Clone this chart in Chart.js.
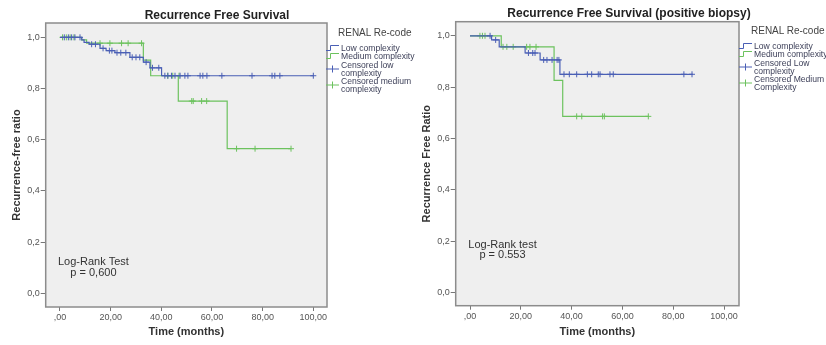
<!DOCTYPE html>
<html>
<head>
<meta charset="utf-8">
<script src="https://cdn.jsdelivr.net/npm/chart.js@4.4.1/dist/chart.umd.min.js"></script>
<style>
  body { margin: 0; background: #fff; width: 826px; height: 345px; overflow: hidden; position: relative;
         font-family: "Liberation Sans", Arial, sans-serif; }
  .panel { position: absolute; top: 0; height: 345px; }
  #panel-left { left: 0; width: 410px; }
  #panel-right { left: 410px; width: 416px; }
  .title { position: absolute; font-weight: bold; font-size: 12px; color: #222; white-space: nowrap; transform: translateX(-50%); }
  .legend { position: absolute; color: #3c3f58; font-size: 8.6px; line-height: 8.3px; white-space: nowrap; }
  .legend .head { font-size: 10px; color: #444; margin-left: 12px; margin-bottom: 6px; line-height: 11px; }
  .legend .item { display: flex; align-items: center; }
  .legend svg { flex: none; margin-right: 2px; }
</style>
</head>
<body>
<div class="panel" id="panel-left"><canvas id="chart-left" width="410" height="345"></canvas></div>
<div class="panel" id="panel-right"><canvas id="chart-right" width="416" height="345"></canvas></div>

<div class="title" style="left:217px; top:8px;">Recurrence Free Survival</div>
<div class="title" style="left:629px; top:6px;">Recurrence Free Survival (positive biopsy)</div>
<div class="legend" id="legend-left" style="left:326px; top:27px;"></div>
<div class="legend" id="legend-right" style="left:739px; top:25px;"></div>

<script>
// axis ticks
const yTickValues = [0, 0.2, 0.4, 0.6, 0.8, 1.0];
const yTickLabels = ['0,0', '0,2', '0,4', '0,6', '0,8', '1,0'];
const xTickValues = [0, 20, 40, 60, 80, 100];
const xTickLabels = [',00', '20,00', '40,00', '60,00', '80,00', '100,00'];

// left panel: all patients
const leftLowTimes = [0, 8.6, 9.5, 11.5, 15.8, 18.2, 21.7, 27.6, 32.9, 35.5, 40.1, 100];
const leftLowSurv  = [1.0, 0.99, 0.98, 0.973, 0.957, 0.948, 0.94, 0.922, 0.903, 0.881, 0.85, 0.85];
const leftMedTimes = [0, 8.5, 10.5, 32.9, 35.8, 46.7, 66, 91.2];
const leftMedSurv  = [1.0, 0.99, 0.977, 0.911, 0.85, 0.751, 0.565, 0.565];
const leftLowCensTimes = [1.7, 3.3, 4.6, 5.9, 7.9, 12.5, 14, 17, 19.5, 20.5, 22.5, 24, 26, 28.5, 30, 31.5, 34, 36.5, 39,
  41.4, 42.6, 44, 45.4, 47.4, 49.3, 50.5, 55.3, 56.4, 58, 63.9, 75.8, 83.7, 84.8, 86.8, 100];
const leftLowCensSurv  = [1.0, 1.0, 1.0, 1.0, 1.0, 0.973, 0.973, 0.957, 0.948, 0.948, 0.94, 0.94, 0.94, 0.922, 0.922, 0.922, 0.903, 0.881, 0.881,
  0.85, 0.85, 0.85, 0.85, 0.85, 0.85, 0.85, 0.85, 0.85, 0.85, 0.85, 0.85, 0.85, 0.85, 0.85, 0.85];
const leftMedCensTimes = [1, 2.5, 4, 5.5, 15.8, 19.7, 24.3, 26.9, 32.2, 42.5, 44.5, 47, 52, 52.6, 55.9, 57.9, 69.7, 77, 91.2];
const leftMedCensSurv  = [1.0, 1.0, 1.0, 1.0, 0.977, 0.977, 0.977, 0.977, 0.977, 0.85, 0.85, 0.85, 0.751, 0.751, 0.751, 0.751, 0.565, 0.565, 0.565];

// right panel: positive biopsy
const rightLowTimes = [0, 8.5, 11.5, 21.7, 27.6, 35.4, 87.7];
const rightLowSurv  = [1.0, 0.984, 0.957, 0.933, 0.906, 0.85, 0.85];
const rightMedTimes = [0, 12.3, 33.1, 36.5, 70.2];
const rightMedSurv  = [1.0, 0.957, 0.826, 0.686, 0.686];
const rightLowCensTimes = [7.9, 10.1, 23, 24.7, 25.6, 29, 30.3, 32.3, 34.3, 35, 37, 39.1, 42, 46.2, 47.9, 50.5, 51.2, 55.1, 56.4, 84.2, 87.4];
const rightLowCensSurv  = [1.0, 0.984, 0.933, 0.933, 0.933, 0.906, 0.906, 0.906, 0.906, 0.906, 0.85, 0.85, 0.85, 0.85, 0.85, 0.85, 0.85, 0.85, 0.85, 0.85, 0.85];
const rightMedCensTimes = [3.9, 4.9, 5.9, 13, 14.5, 17, 22.3, 23.6, 26, 42, 44, 52.2, 52.9, 70.2];
const rightMedCensSurv  = [1.0, 1.0, 1.0, 0.957, 0.957, 0.957, 0.957, 0.957, 0.957, 0.686, 0.686, 0.686, 0.686, 0.686];

const legendLeft = ['Low complexity', 'Medium complexity', 'Censored low<br>complexity', 'Censored medium<br>complexity'];
const legendRight = ['Low complexity', 'Medium complexity', 'Censored Low<br>complexity', 'Censored Medium<br>Complexity'];

const BLUE = '#4a5fb5';
const GREEN = '#6cc25e';

function zip(xs, ys) {
  return xs.map((x, i) => ({ x: x, y: ys[i] }));
}

const panelPlugin = {
  id: 'panel',
  beforeDatasetsDraw(chart) {
    const a = chart.chartArea, ctx = chart.ctx;
    ctx.save();
    ctx.fillStyle = '#efefef';
    ctx.fillRect(a.left, a.top, a.right - a.left, a.bottom - a.top);
    ctx.restore();
  },
  afterDraw(chart) {
    const a = chart.chartArea, ctx = chart.ctx;
    const opts = chart.options.plugins.panel;
    ctx.save();
    ctx.strokeStyle = '#8c8c8c';
    ctx.lineWidth = 1.5;
    ctx.strokeRect(a.left, a.top, a.right - a.left, a.bottom - a.top);
    ctx.fillStyle = '#333';
    ctx.font = '11px "Liberation Sans", Arial, sans-serif';
    ctx.textAlign = 'center';
    ctx.textBaseline = 'middle';
    const px = chart.scales.x.getPixelForValue(opts.textX);
    opts.lines.forEach((line, i) => {
      ctx.fillText(line, px, chart.scales.y.getPixelForValue(opts.textY[i]));
    });
    ctx.restore();
  }
};

function makeChart(id, cfg) {
  const tickFont = { family: '"Liberation Sans", Arial, sans-serif', size: 9 };
  const titleFont = { family: '"Liberation Sans", Arial, sans-serif', size: 11, weight: 'bold' };
  return new Chart(document.getElementById(id), {
    type: 'line',
    data: {
      datasets: [
        { data: zip(cfg.lowT, cfg.lowS), borderColor: BLUE, borderWidth: 1.2, stepped: 'before', pointRadius: 0, fill: false },
        { data: zip(cfg.lowCT, cfg.lowCS), borderColor: BLUE, backgroundColor: BLUE, showLine: false,
          pointStyle: 'cross', pointRadius: 3, pointBorderWidth: 1 },
        { data: zip(cfg.medT, cfg.medS), borderColor: GREEN, borderWidth: 1.2, stepped: 'before', pointRadius: 0, fill: false },
        { data: zip(cfg.medCT, cfg.medCS), borderColor: GREEN, backgroundColor: GREEN, showLine: false,
          pointStyle: 'cross', pointRadius: 3, pointBorderWidth: 1 }
      ]
    },
    options: {
      responsive: false,
      animation: false,
      layout: { padding: { left: 0, top: cfg.top, right: cfg.right, bottom: 0 } },
      plugins: {
        legend: { display: false },
        tooltip: { enabled: false },
        panel: { lines: cfg.lines, textX: cfg.textX, textY: cfg.textY }
      },
      scales: {
        x: {
          type: 'linear', min: cfg.xMin, max: cfg.xMax,
          afterBuildTicks: s => { s.ticks = xTickValues.map(v => ({ value: v })); },
          afterFit: s => { s.height = cfg.xHeight; },
          ticks: { font: tickFont, color: '#555', padding: 1, maxRotation: 0,
                   callback: v => xTickLabels[xTickValues.indexOf(v)] },
          grid: { drawOnChartArea: false, tickLength: 4, color: '#777' },
          border: { display: false },
          title: { display: true, text: 'Time (months)', font: titleFont, color: '#333', padding: { top: 0, bottom: 6.5 } }
        },
        y: {
          min: cfg.yMin, max: cfg.yMax,
          afterBuildTicks: s => { s.ticks = yTickValues.map(v => ({ value: v })); },
          afterFit: s => { s.width = 45.7; },
          ticks: { font: tickFont, color: '#555', padding: 1,
                   callback: v => yTickLabels[yTickValues.indexOf(v)] },
          grid: { drawOnChartArea: false, tickLength: 5, color: '#777' },
          border: { display: false },
          title: { display: true, text: cfg.yTitle, font: titleFont, color: '#333', padding: { top: 10, bottom: 0 } }
        }
      }
    },
    plugins: [panelPlugin]
  });
}

makeChart('chart-left', {
  lowT: leftLowTimes, lowS: leftLowSurv, medT: leftMedTimes, medS: leftMedSurv,
  lowCT: leftLowCensTimes, lowCS: leftLowCensSurv, medCT: leftMedCensTimes, medCS: leftMedCensSurv,
  top: 23, right: 83, xHeight: 38,
  xMin: -5.64, xMax: 105.4, yMin: -0.0535, yMax: 1.056,
  yTitle: 'Recurrence-free ratio',
  lines: ['Log-Rank Test', 'p = 0,600'], textX: 13.2, textY: [0.122, 0.079]
});

makeChart('chart-right', {
  lowT: rightLowTimes, lowS: rightLowSurv, medT: rightMedTimes, medS: rightMedSurv,
  lowCT: rightLowCensTimes, lowCS: rightLowCensSurv, medCT: rightMedCensTimes, medCS: rightMedCensSurv,
  top: 21.7, right: 87, xHeight: 39.3,
  xMin: -5.63, xMax: 105.9, yMin: -0.052, yMax: 1.055,
  yTitle: 'Recurrence Free Ratio',
  lines: ['Log-Rank test', 'p = 0.553'], textX: 12.8, textY: [0.184, 0.145]
});

function stepIcon(color) {
  return '<svg width="13" height="8"><path d="M0 6.5 H4.5 V1.5 H13" fill="none" stroke="' + color + '" stroke-width="1"/></svg>';
}
function crossIcon(color) {
  return '<svg width="13" height="8"><path d="M0 4 H13 M6.5 0.5 V7.5" fill="none" stroke="' + color + '" stroke-width="1"/></svg>';
}
function buildLegend(id, labels) {
  const icons = [stepIcon(BLUE), stepIcon(GREEN), crossIcon(BLUE), crossIcon(GREEN)];
  let html = '<div class="head">RENAL Re-code</div>';
  labels.forEach((label, i) => {
    html += '<div class="item">' + icons[i] + '<span>' + label + '</span></div>';
  });
  document.getElementById(id).innerHTML = html;
}
buildLegend('legend-left', legendLeft);
buildLegend('legend-right', legendRight);
</script>
</body>
</html>
